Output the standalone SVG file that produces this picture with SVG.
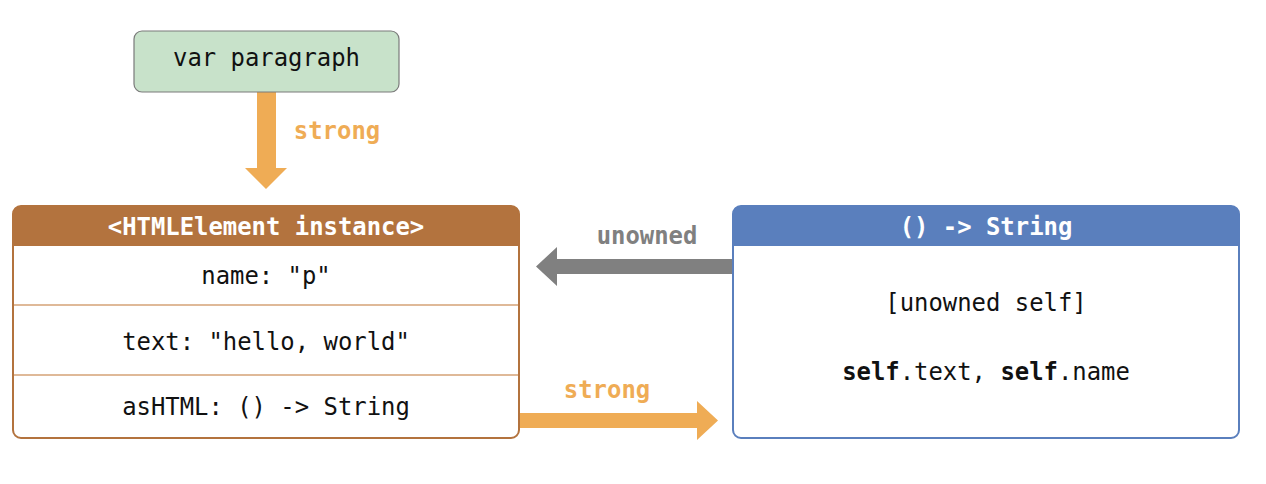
<svg xmlns="http://www.w3.org/2000/svg" width="1266" height="484" viewBox="0 0 1266 484">
<style>
text{font-family:"DejaVu Sans Mono","Liberation Mono",monospace;font-size:23.9px;text-anchor:middle}
.b{font-weight:bold}
.w{fill:#ffffff;font-weight:bold}
.k{fill:#111111}
.o{fill:#efac55;font-weight:bold}
.g{fill:#808080;font-weight:bold}
</style>
<rect width="1266" height="484" fill="#ffffff"/>
<g id="connectors">
<path d="M257,92 H276 V168 H287 L266,189 L245,168 H257 Z" fill="#efac55"/>
<text class="o" x="337" y="139">strong</text>
<path d="M733,259 V274 H557 V286 L536,266.5 L557,247 V259 Z" fill="#808080"/>
<text class="g" x="647" y="244">unowned</text>
<path d="M519,413 H697 V401 L718,420.5 L697,440 V428 H519 Z" fill="#efac55"/>
<text class="o" x="607" y="398">strong</text>
</g>
<g id="var-paragraph">
<rect x="134" y="31" width="265" height="61" rx="8" fill="#c8e2ca" stroke="#7a7a7a" stroke-width="1.2"/>
<text class="k" x="266.5" y="66">var paragraph</text>
</g>
<g id="html-element">
<path d="M13,246 V214 Q13,206 21,206 H511 Q519,206 519,214 V246 Z" fill="#b3733e"/>
<rect x="13" y="206" width="506" height="232" rx="8" fill="none" stroke="#b3733e" stroke-width="2"/>
<line x1="14" y1="305" x2="518" y2="305" stroke="#d4a276" stroke-width="1.5"/>
<line x1="14" y1="375" x2="518" y2="375" stroke="#d4a276" stroke-width="1.5"/>
<text class="w" x="266" y="235">&lt;HTMLElement instance&gt;</text>
<text class="k" x="266" y="284">name: "p"</text>
<text class="k" x="266" y="350">text: "hello, world"</text>
<text class="k" x="266" y="415">asHTML: () -&gt; String</text>
</g>
<g id="closure">
<path d="M733,246 V214 Q733,206 741,206 H1231 Q1239,206 1239,214 V246 Z" fill="#5a7fbd"/>
<rect x="733" y="206" width="506" height="232" rx="8" fill="none" stroke="#5a7fbd" stroke-width="2"/>
<text class="w" x="986" y="235">() -&gt; String</text>
<text class="k" x="986" y="311">[unowned self]</text>
<text class="k" x="986" y="380"><tspan class="b">self</tspan>.text, <tspan class="b">self</tspan>.name</text>
</g>
</svg>
